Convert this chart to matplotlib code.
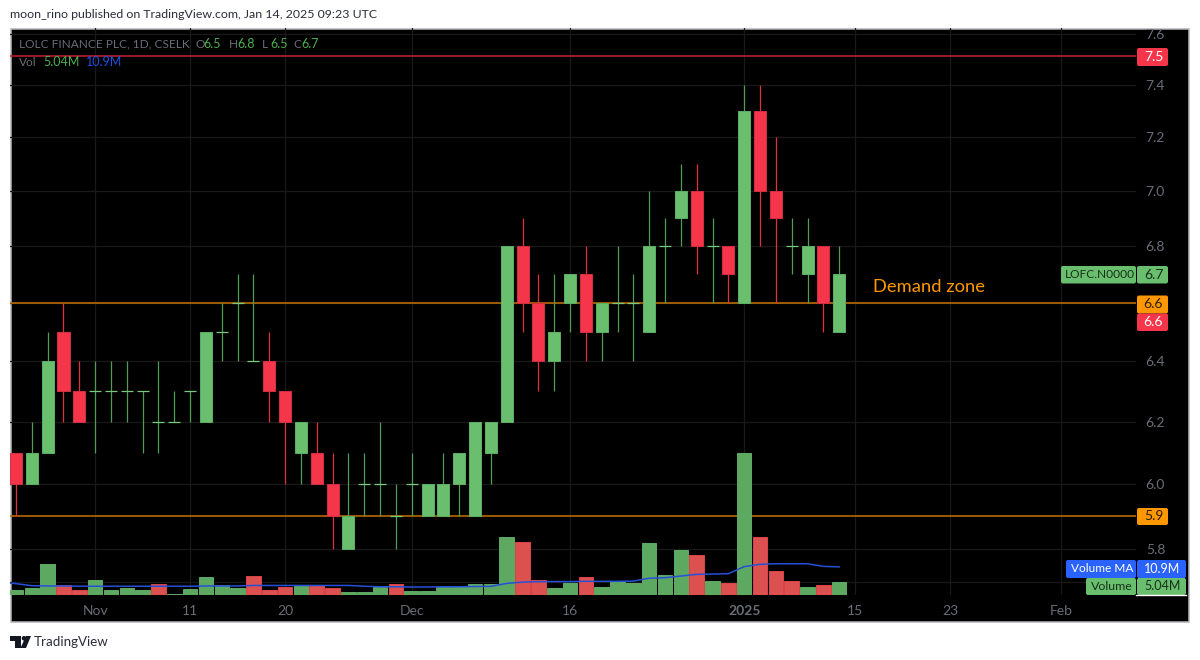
import numpy as np
import matplotlib
matplotlib.use("Agg")
import matplotlib.pyplot as plt
from matplotlib.patches import Rectangle, FancyBboxPatch, Polygon, Circle
from matplotlib.ticker import NullLocator

plt.rcParams['font.family'] = ['Lato', 'DejaVu Sans']

opens = [6.1, 6.0, 6.1, 6.5, 6.3, 6.3, 6.3, 6.3, 6.3, 6.2, 6.2, 6.3, 6.2, 6.5, 6.6, 6.4, 6.4, 6.3,
         6.1, 6.1, 6.0, 5.8, 6.0, 6.0, 5.9, 6.0, 5.9, 5.9, 6.0, 5.9, 6.1, 6.2, 6.8, 6.6, 6.4, 6.6,
         6.7, 6.5, 6.6, 6.6, 6.5, 6.8, 6.9, 7.0, 6.8, 6.8, 6.6, 7.3, 7.0, 6.8, 6.7, 6.8, 6.5]
closes = [6.0, 6.1, 6.4, 6.3, 6.2, 6.3, 6.3, 6.3, 6.3, 6.2, 6.2, 6.3, 6.5, 6.5, 6.6, 6.4, 6.3, 6.2,
          6.2, 6.0, 5.9, 5.9, 6.0, 6.0, 5.9, 6.0, 6.0, 6.0, 6.1, 6.2, 6.2, 6.8, 6.6, 6.4, 6.5, 6.7,
          6.5, 6.6, 6.6, 6.6, 6.8, 6.8, 7.0, 6.8, 6.8, 6.7, 7.3, 7.0, 6.9, 6.8, 6.8, 6.6, 6.7]
highs = [6.1, 6.2, 6.5, 6.6, 6.4, 6.4, 6.4, 6.4, 6.3, 6.4, 6.3, 6.3, 6.5, 6.6, 6.7, 6.7, 6.5, 6.3,
         6.2, 6.2, 6.1, 6.1, 6.1, 6.2, 6.0, 6.1, 6.0, 6.1, 6.1, 6.2, 6.2, 6.8, 6.9, 6.7, 6.7, 6.7,
         6.8, 6.6, 6.8, 6.7, 7.0, 6.9, 7.1, 7.1, 6.9, 6.8, 7.4, 7.4, 7.2, 6.9, 6.9, 6.8, 6.8]
lows = [5.9, 6.0, 6.1, 6.2, 6.2, 6.1, 6.2, 6.2, 6.1, 6.1, 6.2, 6.2, 6.2, 6.4, 6.4, 6.4, 6.2, 6.0,
        6.0, 6.0, 5.8, 5.8, 5.9, 5.9, 5.8, 5.9, 5.9, 5.9, 5.9, 5.9, 6.0, 6.2, 6.5, 6.3, 6.3, 6.5,
        6.4, 6.4, 6.5, 6.4, 6.5, 6.6, 6.8, 6.7, 6.6, 6.6, 6.6, 6.8, 6.6, 6.7, 6.6, 6.5, 6.5]

# volume in millions
volumes = [2.07, 2.84, 12.1, 4.0, 2.07, 5.7, 1.8, 2.84, 1.8, 4.1, 0.5, 2.3, 6.85, 4.0, 2.84, 7.2, 2.07,
           3.1, 3.6, 3.75, 2.84, 1.3, 1.3, 3.0, 4.1, 1.7, 1.7, 3.1, 3.6, 4.1, 4.4, 22.6, 20.4, 5.8,
           2.6, 4.8, 7.0, 3.2, 5.2, 4.8, 20.2, 7.75, 17.6, 15.4, 5.4, 4.8, 54.9, 22.4, 9.2, 5.4, 3.2,
           3.75, 5.04]
vol_red = [3, 4, 9, 15, 16, 17, 19, 20, 24, 32, 33, 36, 43, 45, 47, 48, 49, 51]
# moving average, first value belongs to the bar just left of the view
vol_ma = [4.9, 4.4, 3.6, 3.5, 3.5, 3.4, 3.4, 3.4, 3.4, 3.4, 3.4, 3.4, 3.4, 3.5, 3.5, 3.5, 3.7, 3.7, 3.7,
          3.7, 3.7, 3.7, 3.7, 3.4, 3.2, 3.2, 3.1, 3.1, 3.2, 3.2, 3.3, 3.35, 4.5, 5.0, 5.17, 5.2, 5.2,
          5.3, 5.3, 5.3, 5.4, 6.5, 6.7, 7.35, 8.0, 8.1, 8.25, 11.0, 11.9, 12.1, 12.1, 12.1, 11.1, 10.9]

price_ticks = [5.7, 5.8, 6.0, 6.2, 6.4, 6.6, 6.8, 7.0, 7.2, 7.4, 7.6]
price_labels = ['', '5.8', '6.0', '6.2', '6.4', '', '6.8', '7.0', '7.2', '7.4', '7.6']
date_ticks = [5, 11, 17, 25, 35, 46, 53, 59, 66]
date_labels = ['Nov', '11', '20', 'Dec', '16', '2025', '15', '23', 'Feb']
level_red = 7.515
levels_orange = [6.6, 5.9]

GREEN = '#6abf6f'
GREEN_EDGE = '#5cb163'
GREEN_WICK = '#509c56'
RED = '#f5364a'
RED_EDGE = '#d42f41'
ORANGE = '#ff9800'
BLUE = '#2962ff'
GRID = '#191919'
GREY = '#6a6d78'

W, H = 1200, 660
fig = plt.figure(figsize=(W / 100, H / 100), dpi=100, facecolor='white')


def px_axes(x0, y0, x1, y1):
    return fig.add_axes([x0 / W, 1 - y1 / H, (x1 - x0) / W, (y1 - y0) / H])


# black pane behind everything
bg = px_axes(0, 0, W, H)
bg.set_xlim(0, W)
bg.set_ylim(H, 0)
bg.axis('off')
bg.add_patch(Rectangle((10.5, 28.5), 1178, 593, fc='black', ec='#b4b6bd', lw=1.1))

ax = px_axes(10, 28, 1136, 595)
ax.set_facecolor('none')
ax.set_yscale('log')
ax.set_xlim(-0.379, 70.75)
ax.set_ylim(5.66, 7.625)
for s in ax.spines.values():
    s.set_visible(False)
ax.yaxis.tick_right()
ax.set_yticks(price_ticks)
ax.set_yticklabels(price_labels)
ax.yaxis.set_minor_locator(NullLocator())
ax.set_xticks(date_ticks)
ax.set_xticklabels(date_labels)
ax.tick_params(axis='y', length=0, pad=7, labelsize=10, labelcolor=GREY)
ax.tick_params(axis='x', length=0, pad=7, labelsize=10, labelcolor=GREY)
for lab in ax.get_xticklabels():
    if lab.get_text() == '2025':
        lab.set_fontweight('bold')
ax.grid(True, color=GRID, lw=0.9)
ax.set_axisbelow(True)

ax.axhline(level_red, color='#c8202f', lw=1.1, zorder=1)
for lv in levels_orange:
    ax.axhline(lv, color='#c77200', lw=1.1, zorder=1)

# volume pane shares the same box, 2.58 px per million
vol = px_axes(10, 28, 1136, 595)
vol.set_facecolor('none')
vol.axis('off')
vol.set_xlim(ax.get_xlim())
vol.set_ylim(0, 567 / 2.58)
idx = np.arange(len(volumes))
vol_colors = ['#dc5050' if i in vol_red else '#5da962' for i in idx]
vol_edges = ['#f0484f' if i in vol_red else '#66b86c' for i in idx]
vol.bar(idx, volumes, width=0.92, color=vol_colors, edgecolor=vol_edges, lw=0.6, zorder=2)
vol.plot(np.arange(-1, len(volumes)), vol_ma, color='#2450d8', lw=1.1, zorder=3)

# candles on top of the volume pane
top = px_axes(10, 28, 1136, 595)
top.set_facecolor('none')
top.axis('off')
top.set_yscale('log')
top.set_xlim(ax.get_xlim())
top.set_ylim(ax.get_ylim())
top.yaxis.set_minor_locator(NullLocator())
for i in idx:
    o, c = opens[i], closes[i]
    up = c >= o
    top.vlines(i, lows[i], highs[i], color=GREEN_WICK if up else '#e0303f', lw=0.9, zorder=4)
    if o == c:
        top.hlines(o, i - 0.38, i + 0.38, color='#79c97e', lw=0.9, zorder=5)
    else:
        top.bar(i, abs(c - o), bottom=min(o, c), width=0.76, color=GREEN if up else RED,
                edgecolor=GREEN_EDGE if up else RED_EDGE, lw=0.7, zorder=5)

# overlay in pixel coordinates for labels and header
ov = px_axes(0, 0, W, H)
ov.set_xlim(0, W)
ov.set_ylim(H, 0)
ov.axis('off')
ov.set_facecolor('none')


def tag(x0, y0, x1, y1, color, text, text_color, fs=10):
    ov.add_patch(FancyBboxPatch((x0 + 1.5, y0 + 1.5), x1 - x0 - 3, y1 - y0 - 3,
                                boxstyle='round,pad=1.5,rounding_size=2', fc=color, ec='none'))
    ov.text((x0 + x1) / 2 + 1, (y0 + y1) / 2, text, color=text_color, fontsize=fs, ha='center', va='center')


tag(1137, 48, 1168, 66, RED, '7.5', 'white')
tag(1061, 266, 1136, 283.5, GREEN, 'LOFC.N0000', '#16301a', 8.6)
tag(1137, 266, 1168, 283.5, GREEN, '6.7', '#16301a')
tag(1137, 295.5, 1168, 313.5, ORANGE, '6.6', '#2a1c00')
tag(1137, 313.5, 1168, 331, RED, '6.6', 'white')
tag(1137, 508, 1168, 525, ORANGE, '5.9', '#2a1c00')
tag(1066, 560, 1136, 578, BLUE, 'Volume MA', 'white', 8.6)
tag(1137, 560, 1186, 578, BLUE, '10.9M', 'white', 9)
tag(1086, 578, 1136, 595, GREEN, 'Volume', '#16301a', 8.9)
tag(1137, 578, 1186, 595, GREEN, '5.04M', '#16301a', 9)
ov.plot([1136, 1186], [594.5, 594.5], color='white', lw=1)

ov.text(10, 15, 'moon_rino published on TradingView.com, Jan 14, 2025 09:23 UTC', color='#2a2e39',
        fontsize=8.95, va='center')
ov.text(19, 44, 'LOLC FINANCE PLC, 1D, CSELK', color=GREY, fontsize=8.6, va='center')
for x, lab, val in [(195, 'O', '6.5'), (229, 'H', '6.8'), (262, 'L', '6.5'), (293, 'C', '6.7')]:
    ov.text(x, 44, lab, color=GREY, fontsize=8.6, va='center')
    ov.text(x + 8, 44, val, color='#4caf50', fontsize=9, va='center')
ov.text(19, 62, 'Vol', color=GREY, fontsize=8.6, va='center')
ov.text(43, 62, '5.04M', color='#4caf50', fontsize=9, va='center')
ov.text(86, 62, '10.9M', color='#2050e0', fontsize=9, va='center')
ov.text(873, 287, 'Demand zone', color=ORANGE, fontsize=13.2, va='center')

# logo and footer
ov.add_patch(Polygon([(10, 636), (21, 636), (21, 648), (15, 648), (15, 641), (10, 641)], fc='#131722', ec='none'))
ov.add_patch(Circle((24, 638.3), 2.3, fc='#131722', ec='none'))
ov.add_patch(Polygon([(26, 636), (31, 636), (26, 648), (20.5, 648)], fc='#131722', ec='none'))
ov.text(34, 642, 'TradingView', color='#2a2e39', fontsize=9.6, va='center')

fig.savefig('out.png', dpi=100, facecolor='white')
